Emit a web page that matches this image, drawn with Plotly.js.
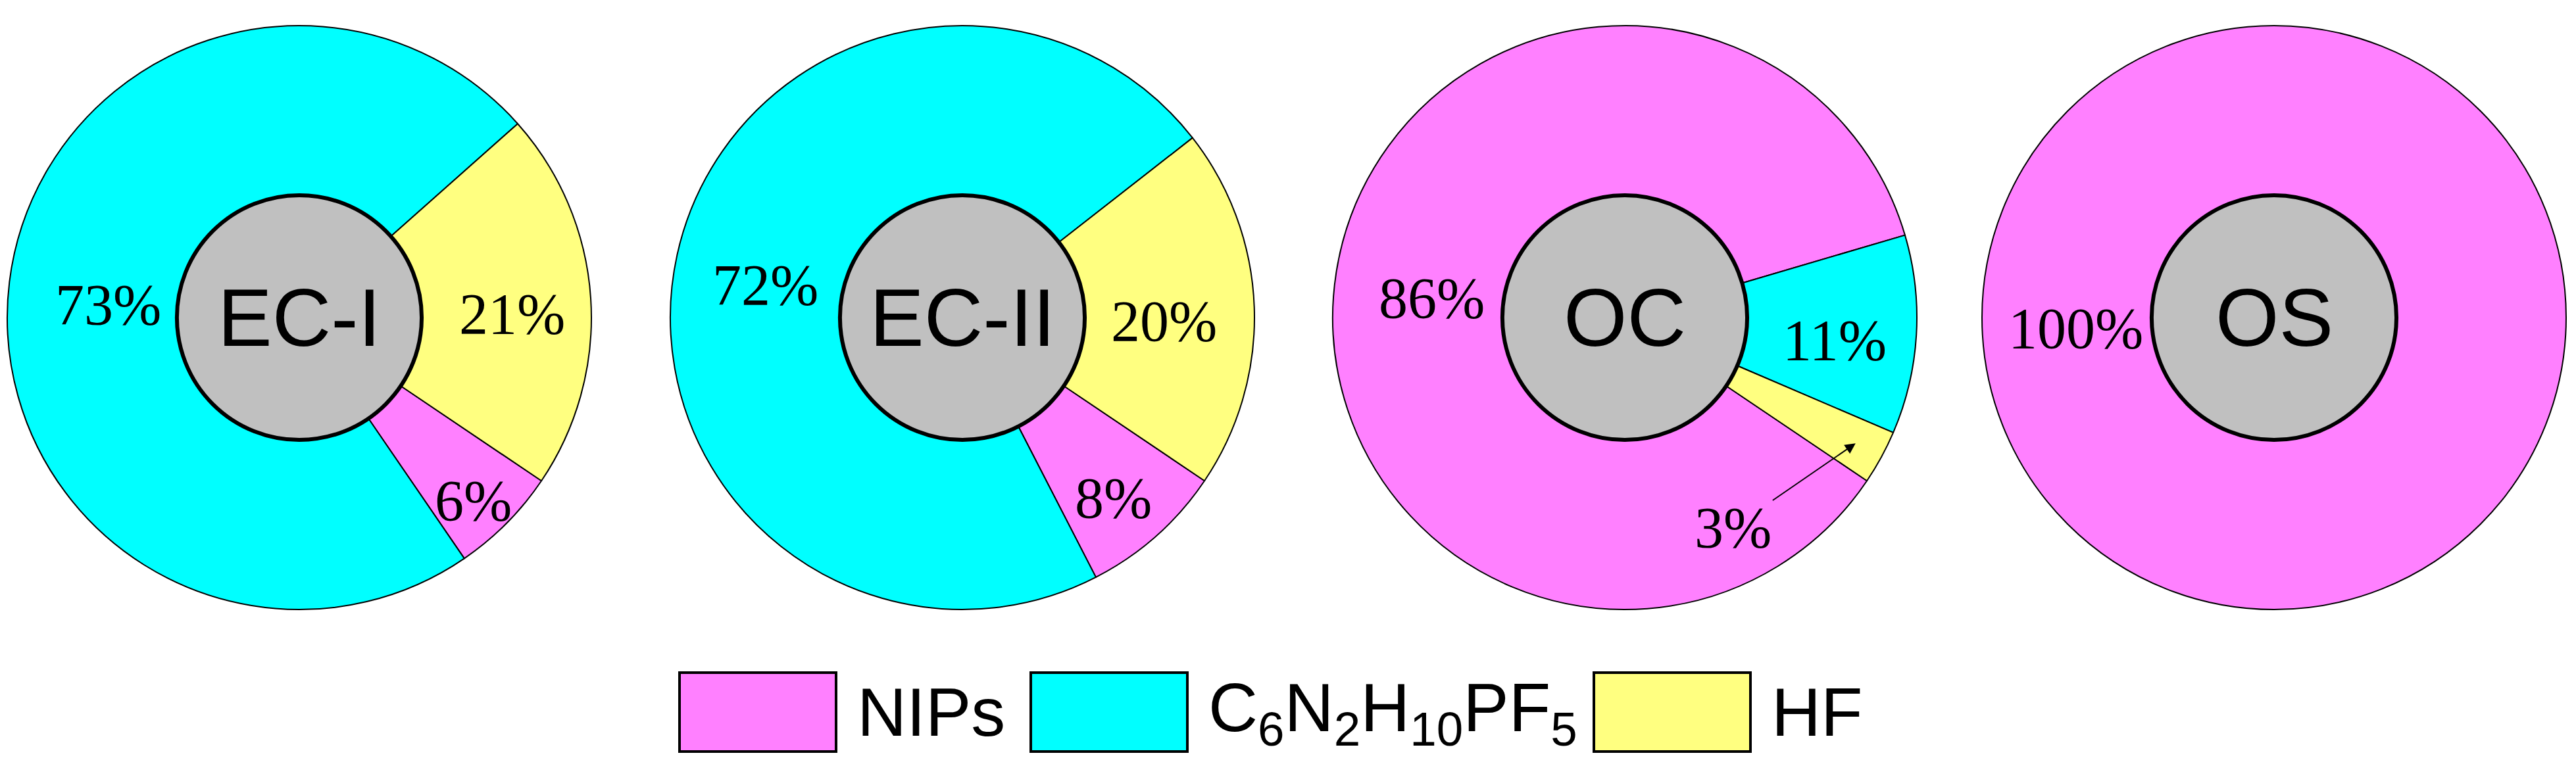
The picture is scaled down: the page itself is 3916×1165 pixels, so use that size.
<!DOCTYPE html>
<html>
<head>
<meta charset="utf-8">
<script src="https://cdn.plot.ly/plotly-3.0.1.min.js"></script>
<style>
  html, body { margin: 0; padding: 0; background: #fff; }
  #chart { width: 3916px; height: 1165px; }
</style>
</head>
<body>
<div id="chart"></div>
<script>
// share of each product (%) per sample
var samples = ['EC-I', 'EC-II', 'OC', 'OS'];
var components = ['NIPs', 'C6N2H10PF5', 'HF'];
var componentLabels = ['NIPs', 'C<sub>6</sub>N<sub>2</sub>H<sub>10</sub>PF<sub>5</sub>', 'HF'];
var nips = [6, 8, 86, 100];
var c6n2h10pf5 = [73, 72, 11, 0];
var hf = [21, 20, 3, 0];

var colors = ['#ff80ff', '#00ffff', '#ffff80'];
var discColor = '#c0c0c0';

// page geometry (px)
var W = 3916, H = 1165;
var centersX = [455, 1463, 2470, 3457];
var centerY = 483;
var R = 444;
var hole = 0.419;
var rotations = [124, 124, 124, 90];
var labelRadius = [[0.84, 0.66, 0.73], [0.78, 0.69, 0.69], [0.67, 0.72, 0.9], [0.68, 0, 0]];

function px(x) { return x / W; }
function py(y) { return 1 - y / H; }

var traces = [];
var annotations = [];
var shapes = [];

samples.forEach(function (name, i) {
    var vals = [nips[i], c6n2h10pf5[i], hf[i]];
    var labs = [], v = [], cols = [], idx = [];
    vals.forEach(function (val, k) {
        if (val > 0) { labs.push(components[k]); v.push(val); cols.push(colors[k]); idx.push(k); }
    });
    var cx = centersX[i];
    var dom = {
        x: [px(cx - R), px(cx + R)],
        y: [py(centerY + R), py(centerY - R)]
    };
    traces.push({
        type: 'pie',
        labels: labs,
        values: v,
        hole: hole,
        sort: false,
        direction: 'clockwise',
        rotation: rotations[i],
        domain: dom,
        marker: { colors: cols, line: { color: '#000', width: 2 } },
        textinfo: 'none',
        hoverinfo: 'label+percent',
        showlegend: false
    });
    // grey centre disc
    var r0 = R * hole;
    traces.push({
        type: 'pie',
        labels: [name],
        values: [1],
        sort: false,
        domain: {
            x: [px(cx - r0), px(cx + r0)],
            y: [py(centerY + r0), py(centerY - r0)]
        },
        marker: { colors: [discColor], line: { color: '#000', width: 6 } },
        textinfo: 'none',
        hoverinfo: 'label',
        showlegend: false
    });
    annotations.push({
        x: px(cx), y: py(centerY), xref: 'paper', yref: 'paper',
        xanchor: 'center', yanchor: 'middle',
        text: name, showarrow: false,
        font: { family: 'Liberation Sans, Arial, sans-serif', size: 124, color: '#000' }
    });

    // percentage labels at the middle of each slice
    var total = v.reduce(function (a, b) { return a + b; }, 0);
    var acc = 0;
    v.forEach(function (val, j) {
        var mid = (rotations[i] + (acc + val / 2) / total * 360) * Math.PI / 180;
        acc += val;
        var rr = R * labelRadius[i][idx[j]];
        var lx = cx + rr * Math.sin(mid);
        var ly = centerY - rr * Math.cos(mid);
        var ann = {
            x: px(lx), y: py(ly), xref: 'paper', yref: 'paper',
            xanchor: 'center', yanchor: 'middle', yshift: -16,
            text: val + '%', showarrow: false,
            font: { family: 'Liberation Serif, Times New Roman, serif', size: 88, color: '#000' }
        };
        if (val < 5) {
            ann.showarrow = true;
            ann.yshift = 0;
            ann.ax = -186;
            ann.ay = 128;
            ann.arrowhead = 2;
            ann.arrowsize = 1.6;
            ann.arrowwidth = 2;
            ann.arrowcolor = '#000';
            ann.standoff = 0;
        }
        annotations.push(ann);
    });
});

// legend: large coloured boxes with labels
var legendX = [1033, 1567, 2423];
var boxW = 238, boxTop = 1023, boxBottom = 1143;
components.forEach(function (c, k) {
    shapes.push({
        type: 'rect', xref: 'paper', yref: 'paper',
        x0: px(legendX[k]), x1: px(legendX[k] + boxW),
        y0: py(boxBottom), y1: py(boxTop),
        fillcolor: colors[k],
        line: { color: '#000', width: 4 }
    });
    annotations.push({
        x: px(legendX[k] + boxW + 30), y: py((boxTop + boxBottom) / 2),
        xref: 'paper', yref: 'paper', xanchor: 'left', yanchor: 'middle',
        text: componentLabels[k], showarrow: false,
        font: { family: 'Liberation Sans, Arial, sans-serif', size: 104, color: '#000' }
    });
});

var layout = {
    width: W,
    height: H,
    margin: { l: 0, r: 0, t: 0, b: 0 },
    paper_bgcolor: '#fff',
    showlegend: false,
    annotations: annotations,
    shapes: shapes
};

Plotly.newPlot('chart', traces, layout, { displayModeBar: false, staticPlot: true });
</script>
</body>
</html>
